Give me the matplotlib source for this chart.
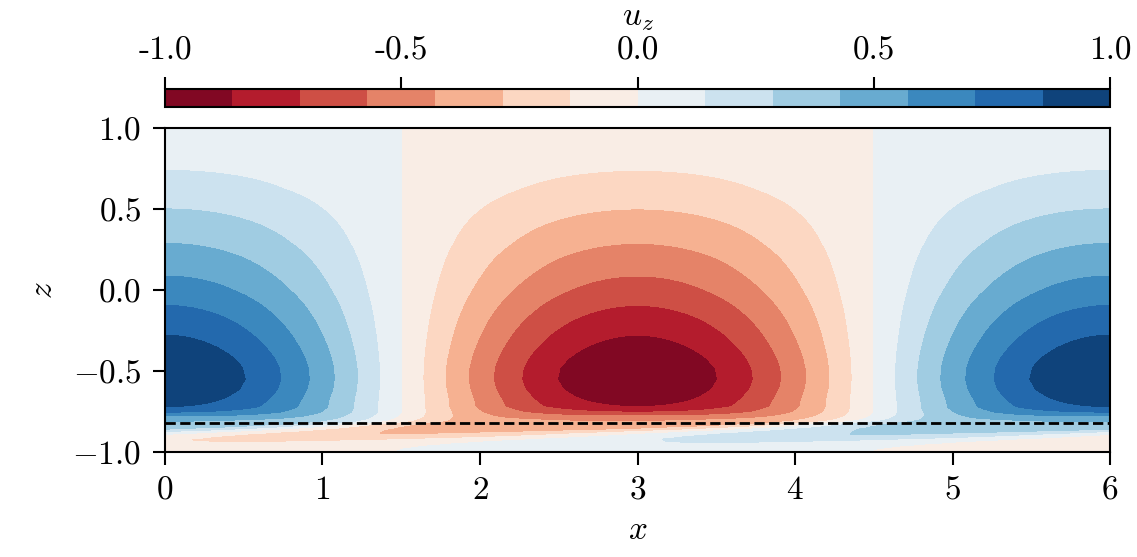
import numpy as np
import matplotlib
matplotlib.use("Agg")
import matplotlib.pyplot as plt

plt.rcParams['font.family'] = 'serif'
plt.rcParams['font.serif'] = ['cmr10']
plt.rcParams['mathtext.fontset'] = 'cm'
plt.rcParams['axes.formatter.use_mathtext'] = True
plt.rcParams['font.size'] = 24

# vertical structure of the mode:
# value at the crest, phase and squareness of the x-profile per height
z_rows = [1.0, 0.9, 0.8, 0.738, 0.62, 0.5, 0.4, 0.287, 0.19, 0.087, 0.0, -0.095,
          -0.19, -0.279, -0.36, -0.42, -0.48, -0.55, -0.61, -0.66, -0.69, -0.72,
          -0.753, -0.777, -0.79, -0.80, -0.81, -0.82, -0.83, -0.843, -0.86, -0.875,
          -0.89, -0.905, -0.92, -0.935, -0.95, -0.965, -0.98, -1.0]
amp = [0.085, 0.10, 0.123, 0.143, 0.205, 0.286, 0.355, 0.429, 0.50, 0.571, 0.635, 0.714,
       0.79, 0.857, 0.915, 0.955, 0.985, 0.995, 0.975, 0.935, 0.90, 0.857,
       0.717, 0.575, 0.50, 0.45, 0.43, 0.42, 0.41, 0.40, 0.37, 0.32,
       0.29, 0.255, 0.20, 0.155, 0.125, 0.10, 0.075, 0.05]
phase = [0.0, 0.0, 0.0, 0.0, 0.0, 0.0, 0.0, 0.0, 0.0, 0.0, 0.0, 0.0,
         0.0, 0.0, 0.0, 0.0, 0.0, 0.0, 0.0, 0.0, 0.0, 0.0,
         0.0, 0.02, 0.05, 0.08, 0.14, 0.25, 0.38, 0.55, 0.85, 1.2,
         1.55, 1.85, 2.2, 2.55, 2.8, 3.0, 3.12, 3.2]
square = [0.001, 0.001, 0.001, 0.001, 0.001, 0.001, 0.001, 0.001, 0.001, 0.001, 0.001, 0.001,
          0.001, 0.001, 0.001, 0.001, 0.001, 0.001, 0.001, 0.1, 0.3, 0.5,
          0.9, 1.3, 1.6, 1.8, 1.9, 1.9, 1.8, 1.5, 1.0, 0.6,
          0.3, 0.001, 0.001, 0.001, 0.001, 0.001, 0.001, 0.001]
Lx = 6.0          # one wavelength in x
z_line = -0.82    # dashed level

levels = np.linspace(-1, 1, 15)
cb_ticks = [-1.0, -0.5, 0.0, 0.5, 1.0]
cb_labels = ['-1.0', '-0.5', '0.0', '0.5', '1.0']

x = np.linspace(0, Lx, 601)
z = np.array(z_rows)
k = 2 * np.pi / Lx
th = k * x[None, :] + np.array(phase)[:, None]
s = np.array(square)[:, None]
uz = np.array(amp)[:, None] * np.tanh(s * np.cos(th)) / np.tanh(s)

fig = plt.figure(figsize=(11.37, 5.57), dpi=100)
ax = fig.add_axes([0.1451, 0.1885, 0.8312, 0.5817])
cax = fig.add_axes([0.1451, 0.8079, 0.8312, 0.0323])

cs = ax.contourf(x, z, uz, levels=levels, cmap='RdBu')
ax.axhline(z_line, color='k', ls='--', lw=2)

ax.set_xlim(0, 6)
ax.set_ylim(-1, 1)
ax.set_xticks([0, 1, 2, 3, 4, 5, 6])
ax.set_yticks([-1.0, -0.5, 0.0, 0.5, 1.0])
ax.set_xlabel('$x$', labelpad=8)
ax.set_ylabel('$z$', labelpad=10)
ax.tick_params(length=9, width=1.5, pad=8)
for sp in ax.spines.values():
    sp.set_linewidth(1.5)

cb = fig.colorbar(cs, cax=cax, orientation='horizontal', ticks=cb_ticks)
cb.ax.set_xticklabels(cb_labels)
cax.xaxis.set_ticks_position('top')
cax.xaxis.set_label_position('top')
cb.set_label('$u_z$', labelpad=8)
cax.tick_params(length=9, width=1.5, pad=8)
cb.outline.set_linewidth(1.5)

fig.savefig('out.png', dpi=100)
